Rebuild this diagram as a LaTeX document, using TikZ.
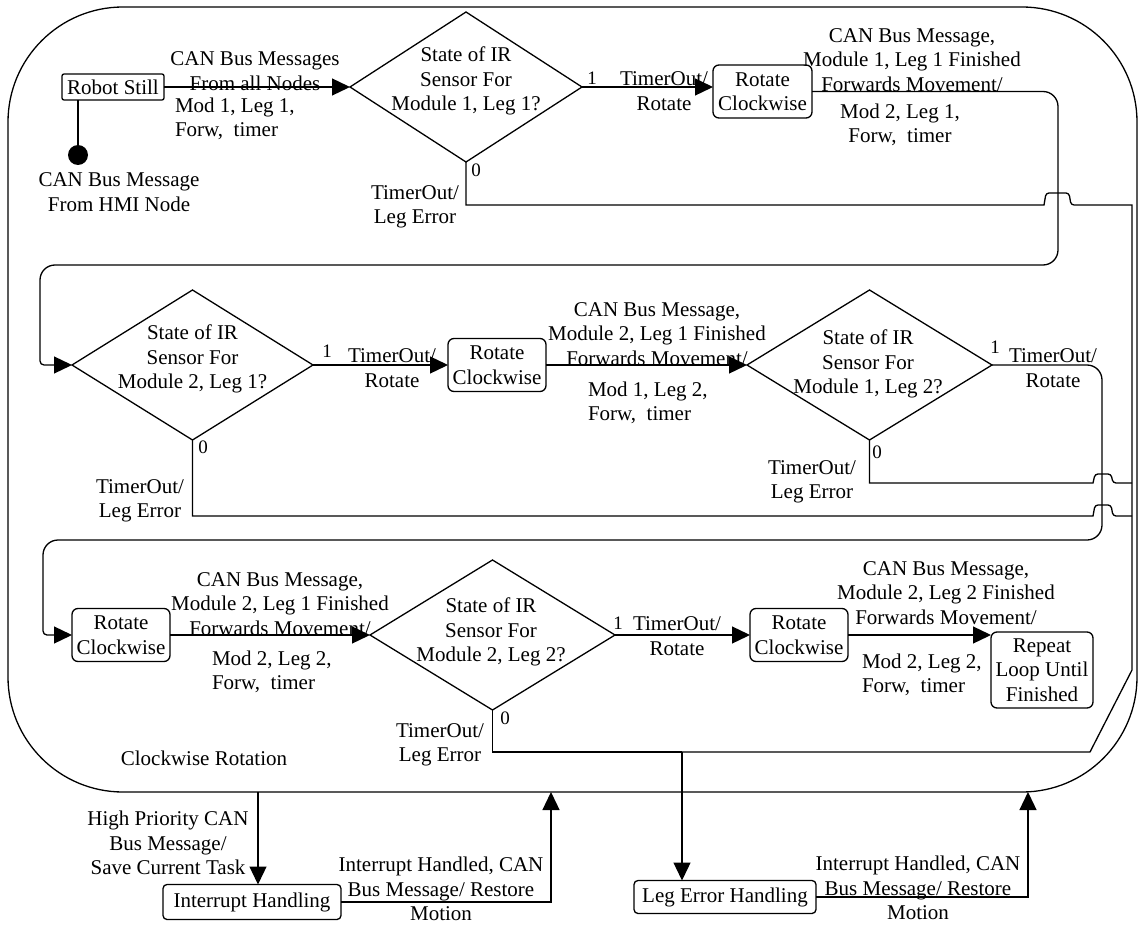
\documentclass[tikz,border=0pt]{standalone}
\usepackage{fontspec}
\setmainfont{Liberation Serif}
\usetikzlibrary{arrows.meta,shapes.geometric,calc}
\begin{document}
\begin{tikzpicture}[x=1pt,y=-1pt,
  line width=1.3pt,
  every node/.style={font=\fontsize{21}{24.5}\selectfont, inner sep=0pt, outer sep=0pt},
  lbl/.style={align=center},
  lbll/.style={align=left, anchor=west},
  num/.style={font=\fontsize{19}{22}\selectfont},
  dia/.style={draw, diamond, minimum width=245pt, minimum height=150pt},
  rbox/.style={draw, rounded corners=6pt, minimum width=98pt, minimum height=53pt, align=center},
  sbox/.style={draw, rounded corners=4pt, minimum height=34pt},
  arr/.style={-{Triangle[length=18pt,width=17pt]}},
]
\useasboundingbox (0,0) rectangle (1138,928);

% outer state
\draw[rounded corners=115pt] (8,7) rectangle (1137,792);

% ---------- row 1 ----------
\node[sbox, rounded corners=2pt, minimum width=102pt, minimum height=26pt] (robot) at (113,87) {Robot Still};
\node[circle, fill, minimum size=20pt] (hmi) at (78,155) {};
\draw (hmi) -- (hmi |- robot.south);
\node[lbl] (thmi) at (119,192) {CAN Bus Message\\From HMI Node};

\node[dia, minimum width=232pt] (d1) at (466,87) {};
\node[lbl] (d1t) at (466,81) {State of IR\\Sensor For\\Module 1, Leg 1?};
\node[num] (d1one) at (592,78) {1};
\node[num] (d1zero) at (476,170) {0};

\draw[arr] (robot.east) -- (d1.west);
\node[lbl] (tall) at (255,71) {CAN Bus Messages\\From all Nodes};
\node[lbll] (tm11) at (175,119) {Mod 1, Leg 1,\\ Forw,\ \ timer};

\node[rbox, minimum width=99pt] (rc1) at (762.5,91.5) {Rotate\\Clockwise};
\draw[arr] (d1.east) -- (d1.east -| rc1.west);
\node[lbl] (d1r) at (664,91) {TimerOut/\\Rotate};
\node[lbl] (d1e) at (415,207) {TimerOut/\\Leg Error};

\node[lbl] (tf11) at (912,60) {CAN Bus Message,\\Module 1, Leg 1 Finished\\Forwards Movement/};
\node[lbl] (tm21) at (900,125) {Mod 2, Leg 1,\\Forw,\ \ timer};

% ---------- row 2 ----------
\node[dia, minimum width=241pt] (d2) at (192.5,365) {};
\node[lbl] (d2t) at (192.5,359) {State of IR\\Sensor For\\Module 2, Leg 1?};
\node[num] (d2one) at (327,351) {1};
\node[num] (d2zero) at (203,447) {0};
\node[lbl] (d2r) at (392,368) {TimerOut/\\Rotate};
\node[lbl] (d2e) at (140,501) {TimerOut/\\Leg Error};

\node[rbox] (rc2) at (497,365) {Rotate\\Clockwise};
\draw[arr] (d2.east) -- (d2.east -| rc2.west);

\node[dia] (d3) at (869.5,365) {};
\node[lbl] (d3t) at (868,364) {State of IR\\Sensor For\\Module 1, Leg 2?};
\node[num] (d3one) at (995,347) {1};
\node[num] (d3zero) at (877,452) {0};
\node[lbl] (d3r) at (1053,368) {TimerOut/\\Rotate};
\node[lbl] (d3e) at (812,482) {TimerOut/\\Leg Error};

\draw[arr] (rc2.east) -- (d3.west);
\node[lbl] (tf21) at (657,334) {CAN Bus Message,\\Module 2, Leg 1 Finished\\Forwards Movement/};
\node[lbll] (tm12) at (588,403) {Mod 1, Leg 2,\\Forw,\ \ timer};

% ---------- row 3 ----------
\node[rbox] (rc3) at (121,635) {Rotate\\Clockwise};
\node[dia] (d4) at (492.5,635) {};
\node[lbl] (d4t) at (491,632) {State of IR\\Sensor For\\Module 2, Leg 2?};
\node[num] (d4one) at (618,623) {1};
\node[num] (d4zero) at (505,718) {0};
\node[lbl] (d4r) at (677,636) {TimerOut/\\Rotate};
\node[lbl] (d4e) at (440,745) {TimerOut/\\Leg Error};

\draw[arr] (rc3.east) -- (d4.west);
\node[lbl] (tf21b) at (280,604) {CAN Bus Message,\\Module 2, Leg 1 Finished\\Forwards Movement/};
\node[lbll] (tm22) at (212,672) {Mod 2, Leg 2,\\Forw,\ \ timer};

\node[rbox] (rc4) at (799,635) {Rotate\\Clockwise};
\draw[arr] (d4.east) -- (d4.east -| rc4.west);

\node[draw, rounded corners=6pt, minimum width=102pt, minimum height=76pt, align=center] (rep) at (1042,670) {Repeat\\Loop Until\\Finished};
\draw[arr] (rc4.east) -- (rc4.east -| rep.west);
\node[lbl] (tf22) at (946,593) {CAN Bus Message,\\Module 2, Leg 2 Finished\\Forwards Movement/};
\node[lbll] (tm22b) at (862,675) {Mod 2, Leg 2,\\Forw,\ \ timer};

\node (cwr) at (204,758) {Clockwise Rotation};

% ---------- loop-back connectors ----------
\draw[arr, rounded corners=15pt] (rc1.east) -| (1058,265) -- (40,265) [rounded corners=4pt] |- (d2.west);
\draw[arr, rounded corners=15pt] (d3.east) -| (1102,540) -- (43,540) [rounded corners=4pt] |- (rc3.west);

% ---------- leg error connectors ----------
\coordinate (lein) at (682,752);
\draw (d1.south) |- (1044,205) [rounded corners=3pt] -- (1046,193) -- (1069,193) -- (1071,205) [sharp corners] -- (1132,205) -- (1132,670) -- (1090,752) -- (lein);
\draw (d2.south) |- (1093,516) [rounded corners=3pt] -- (1095,505) -- (1111,505) -- (1113,516) [sharp corners] -- (1132,516);
\draw (d3.south) |- (1093,483) [rounded corners=3pt] -- (1095,474) -- (1111,474) -- (1113,483) [sharp corners] -- (1132,483);
\draw (d4.south) |- (lein);

% ---------- bottom ----------
\node[sbox, minimum width=178pt, minimum height=35pt] (ih) at (252,902) {Interrupt Handling};
\coordinate (ihin) at (258,792);
\coordinate (ihout) at (551,792);
\draw[arr] (ihin) -- (ihin |- ih.north);
\draw[arr] (ih.east) -| (ihout);
\node[lbl] (thp) at (168,843) {High Priority CAN\\Bus Message/\\Save Current Task};
\node[lbl] (tih) at (441,889) {Interrupt Handled, CAN\\Bus Message/ Restore\\Motion};

\node[sbox, minimum width=182pt, minimum height=33pt] (leh) at (725,897) {Leg Error Handling};
\coordinate (leout) at (1028,792);
\draw[arr] (lein) -- (lein |- leh.north);
\draw[arr] (leh.east) -| (leout);
\node[lbl] (tle) at (918,888) {Interrupt Handled, CAN\\Bus Message/ Restore\\Motion};

\end{tikzpicture}
\end{document}
